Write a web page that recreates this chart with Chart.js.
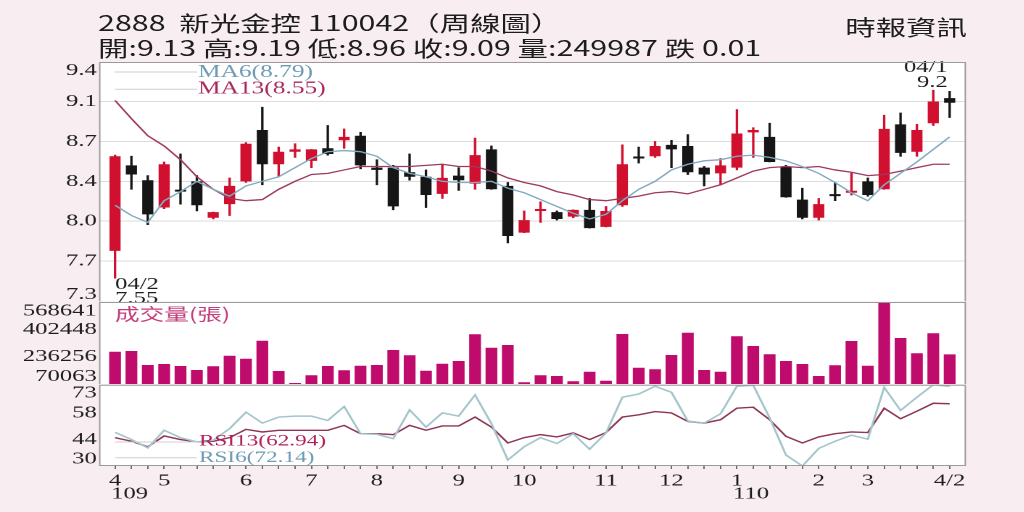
<!DOCTYPE html>
<html lang="zh-Hant">
<head>
<meta charset="utf-8">
<title>2888 新光金控 周線圖</title>
<script src="https://cdn.jsdelivr.net/npm/chart.js@4.4.1/dist/chart.umd.min.js"></script>
<style>
  html, body { margin: 0; padding: 0; width: 1024px; height: 512px; overflow: hidden; background: #f8edf0; }
  #wrap { position: absolute; left: 0; top: 0; height: 512px; transform-origin: 0 0; }
  .hd { position: absolute; font-family: "Noto Sans CJK TC", sans-serif; font-size: 21px; line-height: 24px; color: #1d1d1d; white-space: pre; }
  .box { position: absolute; left: 0; }
</style>
</head>
<body>
<div id="wrap">
  <div class="hd" id="title" style="left:67.6px; top:10px;"></div>
  <div class="hd" id="quote" style="left:67.6px; top:34.5px;"></div>
  <div class="hd" id="src" style="right:39.3px; top:13.5px;"></div>
  <div class="box" id="pBox" style="top:50px; height:252px;"><canvas id="priceChart"></canvas></div>
  <div class="box" id="vBox" style="top:302px; height:82px;"><canvas id="volChart"></canvas></div>
  <div class="box" id="rBox" style="top:384px; height:128px;"><canvas id="rsiChart"></canvas></div>
</div>
<script>
// Weekly chart, 2020/04 .. 2021/04 (52 weeks)
const titleText = '2888  新光金控 110042（周線圖）';
const sourceText = '時報資訊';
const volTitle = '成交量(張)';

const openP  = [7.79, 8.54, 8.41, 8.17, 8.32, 8.40, 8.08, 8.20, 8.40, 8.85, 8.55, 8.66, 8.58, 8.69, 8.76, 8.80, 8.52, 8.52, 8.48, 8.44, 8.29, 8.45, 8.38, 8.68, 8.36, 7.95,
                8.14, 8.13, 8.09, 8.15, 8.00, 8.19, 8.61, 8.62, 8.72, 8.71, 8.52, 8.47, 8.52, 8.83, 8.79, 8.53, 8.24, 8.08, 8.28, 8.30, 8.40, 8.33, 8.90, 8.66, 8.91, 9.13];
const highP  = [8.63, 8.62, 8.45, 8.57, 8.64, 8.45, 8.13, 8.43, 8.74, 9.05, 8.70, 8.73, 8.68, 8.89, 8.86, 8.83, 8.59, 8.54, 8.64, 8.50, 8.55, 8.52, 8.78, 8.71, 8.39, 8.14,
                8.22, 8.14, 8.15, 8.25, 8.18, 8.72, 8.70, 8.75, 8.76, 8.81, 8.53, 8.60, 9.03, 8.87, 8.91, 8.54, 8.34, 8.25, 8.39, 8.47, 8.43, 8.98, 9.00, 8.90, 9.20, 9.19];
const lowP   = [7.55, 8.33, 8.02, 8.16, 8.20, 8.14, 8.07, 8.10, 8.39, 8.37, 8.44, 8.61, 8.52, 8.63, 8.69, 8.51, 8.37, 8.15, 8.41, 8.17, 8.25, 8.32, 8.33, 8.33, 7.86, 7.95,
                8.04, 8.06, 8.08, 7.99, 8.00, 8.18, 8.56, 8.61, 8.52, 8.46, 8.36, 8.37, 8.50, 8.61, 8.57, 8.26, 8.07, 8.06, 8.23, 8.28, 8.27, 8.33, 8.62, 8.62, 8.89, 8.96];
const closeP = [8.62, 8.46, 8.11, 8.55, 8.31, 8.19, 8.13, 8.36, 8.73, 8.55, 8.66, 8.68, 8.68, 8.64, 8.79, 8.54, 8.50, 8.18, 8.44, 8.28, 8.43, 8.41, 8.63, 8.33, 7.92, 8.06,
                8.15, 8.07, 8.15, 7.99, 8.14, 8.55, 8.60, 8.71, 8.68, 8.48, 8.46, 8.54, 8.82, 8.85, 8.57, 8.26, 8.08, 8.20, 8.27, 8.31, 8.28, 8.86, 8.65, 8.85, 9.10, 9.09];
const volume = [266500, 270700, 185600, 191700, 179500, 155200, 177700, 242100, 223900, 333300, 149100, 76000, 123000, 179500, 153400, 181300, 185600, 276800,
                244600, 151000, 193500, 209900, 372200, 290800, 307200, 80400, 123000, 118700, 86500, 144800, 90100, 374100, 169200, 159400, 246400, 382000,
                155200, 144800, 360100, 301100, 250600, 209900, 191700, 118700, 183800, 331500, 181300, 568641, 349700, 256700, 378300, 249987];
const ma6    = [8.19, 8.10, 8.04, 8.23, 8.31, 8.40, 8.33, 8.27, 8.36, 8.40, 8.44, 8.52, 8.60, 8.66, 8.67, 8.66, 8.62, 8.52, 8.47, 8.44, 8.40, 8.39, 8.39, 8.40, 8.34, 8.30,
                8.24, 8.18, 8.12, 8.07, 8.11, 8.23, 8.33, 8.40, 8.50, 8.55, 8.58, 8.59, 8.62, 8.63, 8.61, 8.58, 8.53, 8.47, 8.39, 8.30, 8.23, 8.37, 8.47, 8.57, 8.68, 8.79];
const ma13   = [9.11, 8.95, 8.80, 8.71, 8.59, 8.44, 8.33, 8.25, 8.23, 8.24, 8.33, 8.40, 8.46, 8.47, 8.50, 8.53, 8.53, 8.53, 8.53, 8.54, 8.55, 8.53, 8.53, 8.49, 8.43, 8.39,
                8.36, 8.31, 8.28, 8.24, 8.23, 8.25, 8.27, 8.30, 8.31, 8.29, 8.33, 8.37, 8.43, 8.49, 8.52, 8.53, 8.52, 8.53, 8.50, 8.48, 8.45, 8.46, 8.49, 8.52, 8.55, 8.55];
const rsi6   = [47.8, 44.0, 39.6, 48.9, 45.0, 42.8, 43.6, 49.8, 58.5, 52.7, 55.9, 56.4, 56.4, 54.1, 61.5, 47.1, 46.8, 44.5, 59.7, 50.6, 58.1, 56.4, 67.6, 52.4, 33.2, 40.2,
                45.0, 41.9, 47.1, 38.9, 47.5, 66.4, 68.1, 72.2, 69.0, 53.8, 52.7, 57.6, 72.2, 72.7, 55.5, 35.8, 30.0, 39.3, 43.1, 46.3, 44.2, 71.6, 59.4, 66.4, 73.0, 72.14];
const rsi13  = [45.0, 43.1, 40.2, 45.9, 44.0, 42.8, 43.1, 45.0, 49.4, 48.0, 48.9, 48.9, 48.9, 48.9, 51.5, 47.1, 47.1, 46.6, 51.5, 48.9, 51.2, 51.2, 55.9, 50.6, 42.2, 45.0,
                46.6, 45.4, 47.5, 44.0, 47.7, 55.9, 57.1, 58.8, 58.1, 53.6, 52.7, 54.5, 60.6, 61.1, 54.5, 45.7, 42.2, 45.4, 47.1, 48.0, 47.7, 60.6, 55.0, 59.0, 63.2, 62.94];

const monthTickIdx    = [0, 3, 8, 12, 16, 21, 25, 30, 34, 38, 43, 46, 51];
const monthTickLabels = ['4', '5', '6', '7', '8', '9', '10', '11', '12', '1', '2', '3', '4/2'];
const yearTickIdx     = [0, 38];
const yearTickLabels  = ['109', '110'];

const priceTickValues = [7.347, 7.7, 8.05, 8.4, 8.75, 9.1, 9.447];
const priceTickLabels = ['7.3', '7.7', '8.0', '8.4', '8.7', '9.1', '9.4'];
const volTickValues   = [70063, 236256, 402448, 568641];
const volTickLabels   = ['70063', '236256', '402448', '568641'];
const rsiTickValues   = [30, 44, 58, 73];
const rsiTickLabels   = ['30', '44', '58', '73'];

const lowNote  = ['04/2', '7.55'];
const highNote = ['04/1', '9.2'];

// the source picture is stretched horizontally; draw narrow and stretch the same way
const S = 1.45;
const AXIS_W = 99 / S;
const FRAME_R = 966 / S;
const BOX_W = Math.ceil(FRAME_R) + 1;
const SERIF = "'Liberation Serif', 'DejaVu Serif', serif";
const CJK = "'Noto Sans CJK TC', sans-serif";

const wrap = document.getElementById('wrap');
wrap.style.width = (1024 / S) + 'px';
wrap.style.transform = 'scaleX(' + S + ')';
['pBox', 'vBox', 'rBox'].forEach(id => { document.getElementById(id).style.width = BOX_W + 'px'; });

const last = closeP.length - 1;
const chg = closeP[last] - closeP[last - 1];
document.getElementById('title').textContent = titleText;
document.getElementById('src').textContent = sourceText;
document.getElementById('quote').textContent =
  '開:' + openP[last].toFixed(2) + ' 高:' + highP[last].toFixed(2) + ' 低:' + lowP[last].toFixed(2) +
  ' 收:' + closeP[last].toFixed(2) + ' 量:' + volume[last] + (chg < 0 ? ' 跌 ' : ' 漲 ') + Math.abs(chg).toFixed(2);

Chart.defaults.font.family = SERIF;
Chart.defaults.color = '#1d1d1d';

const weeks = closeP.map((_, i) => i);
const UP = '#d0102e', DOWN = '#161616';
const candleColor = weeks.map(i => closeP[i] >= openP[i] ? UP : DOWN);

function xAxis(show) {
  return {
    type: 'linear', min: -0.98, max: 52, display: show, offset: false,
    afterBuildTicks: s => { s.ticks = weeks.map(v => ({ value: v })); },
    afterFit: s => { if (show) s.height = 46; s.paddingLeft = 0; s.paddingRight = 0; },
    grid: { offset: false, drawOnChartArea: false, drawTicks: true, tickLength: 3, color: '#6d6d6d' },
    border: { display: false },
    ticks: {
      autoSkip: false, maxRotation: 0, minRotation: 0, padding: 2, font: { size: 17 }, color: '#1d1d1d',
      callback: v => { const k = monthTickIdx.indexOf(v); return k < 0 ? '' : monthTickLabels[k]; }
    }
  };
}

// outer labels sit just inside the panel edge, like the source
function yAxis(values, labels, insetBottom, insetTop, panelH, gridOn) {
  const min = values[0], max = values[values.length - 1];
  const d0 = (max - min) * insetBottom / panelH, d1 = (max - min) * insetTop / panelH;
  const pos = values.map((v, i) => i === 0 ? v + d0 : (i === values.length - 1 ? v - d1 : v));
  return {
    position: 'left', min, max, beginAtZero: false,
    afterBuildTicks: s => { s.ticks = pos.map(v => ({ value: v })); },
    afterFit: s => { s.width = AXIS_W; s.paddingTop = 0; s.paddingBottom = 0; },
    grid: {
      drawTicks: false, drawOnChartArea: gridOn,
      color: c => (c.index === 0 || c.index === pos.length - 1) ? 'rgba(0,0,0,0)' : '#dcdcdc'
    },
    border: { display: false },
    ticks: { autoSkip: false, padding: 1.5, font: { size: 17 }, color: '#1d1d1d', callback: (v, i) => labels[i] }
  };
}

function framePlugin(withBottom) {
  return {
    id: 'frame',
    beforeDraw(chart) {
      const { ctx, chartArea: a } = chart;
      ctx.save();
      ctx.fillStyle = '#ffffff';
      ctx.fillRect(a.left, a.top, a.width, a.height);
      ctx.restore();
    },
    afterDraw(chart) {
      const { ctx, chartArea: a } = chart;
      ctx.save();
      ctx.lineWidth = 1;
      ctx.strokeStyle = '#9a9a9a';
      ctx.beginPath();
      ctx.moveTo(a.left + 0.5, a.top); ctx.lineTo(a.left + 0.5, a.bottom);
      ctx.moveTo(a.right - 0.5, a.top); ctx.lineTo(a.right - 0.5, a.bottom);
      ctx.moveTo(a.left, a.top + 0.5); ctx.lineTo(a.right, a.top + 0.5);
      if (withBottom) { ctx.moveTo(a.left, a.bottom - 0.5); ctx.lineTo(a.right, a.bottom - 0.5); }
      ctx.stroke();
      ctx.restore();
    }
  };
}

const legendPlugin = {
  id: 'legendText',
  afterDraw(chart, args, opts) {
    const { ctx } = chart;
    ctx.save();
    (opts.items || []).forEach(it => {
      if (it.lineY !== undefined) {
        ctx.strokeStyle = '#cfcfcf';
        ctx.lineWidth = 1;
        ctx.beginPath();
        ctx.moveTo(115 / S, it.lineY + 0.5);
        ctx.lineTo(197 / S, it.lineY + 0.5);
        ctx.stroke();
      }
      ctx.font = it.font;
      ctx.fillStyle = it.color;
      ctx.textAlign = 'left';
      ctx.textBaseline = 'middle';
      ctx.fillText(it.text, it.x, it.y);
    });
    ctx.restore();
  }
};

const notesPlugin = {
  id: 'notes',
  afterDatasetsDraw(chart) {
    const { ctx, scales: { x, y } } = chart;
    const lo = lowP.indexOf(Math.min(...lowP));
    const hi = highP.indexOf(Math.max(...highP));
    ctx.save();
    ctx.font = '17px ' + SERIF;
    ctx.fillStyle = '#1d1d1d';
    ctx.textBaseline = 'alphabetic';
    ctx.textAlign = 'left';
    const lx = x.getPixelForValue(lo), ly = y.getPixelForValue(lowP[lo]);
    ctx.fillText(lowNote[0], lx, ly + 11);
    ctx.fillText(lowNote[1], lx, ly + 25);
    ctx.textAlign = 'right';
    const hx = x.getPixelForValue(hi) + 10, hy = y.getPixelForValue(highP[hi]);
    ctx.fillText(highNote[1], hx, hy - 3);
    ctx.fillText(highNote[0], hx, hy - 18);
    ctx.restore();
  }
};

const yearPlugin = {
  id: 'years',
  afterDraw(chart) {
    const { ctx, chartArea: a, scales: { x } } = chart;
    ctx.save();
    ctx.font = '17px ' + SERIF;
    ctx.fillStyle = '#1d1d1d';
    ctx.textAlign = 'left';
    ctx.textBaseline = 'middle';
    yearTickIdx.forEach((v, k) => ctx.fillText(yearTickLabels[k], x.getPixelForValue(v) - 4 / S, a.bottom + 28));
    ctx.restore();
  }
};

const baseOptions = (padTop) => ({
  responsive: true, maintainAspectRatio: false, animation: false, devicePixelRatio: 2, events: [],
  layout: { padding: { top: padTop, right: BOX_W - FRAME_R, left: 0, bottom: 0 } },
});

const pts = arr => weeks.map(i => ({ x: i, y: arr[i] }));

// price panel: candles + MA lines
new Chart(document.getElementById('priceChart'), {
  type: 'bar',
  data: {
    datasets: [
      { type: 'line', data: pts(ma6), borderColor: '#82abbf', borderWidth: 1.3, pointRadius: 0, order: 0 },
      { type: 'line', data: pts(ma13), borderColor: '#9e3a60', borderWidth: 1.3, pointRadius: 0, order: 0 },
      { data: weeks.map(i => ({ x: i, y: [openP[i], closeP[i]] })), backgroundColor: candleColor,
        barPercentage: 0.68, categoryPercentage: 1, minBarLength: 2, grouped: false, order: 1 },
      { data: weeks.map(i => ({ x: i, y: [lowP[i], highP[i]] })), backgroundColor: candleColor,
        barThickness: 1, grouped: false, order: 2 }
    ]
  },
  options: Object.assign(baseOptions(12), {
    scales: { x: xAxis(false), y: yAxis(priceTickValues, priceTickLabels, 7, 8.8, 240, true) },
    plugins: {
      legend: { display: false }, tooltip: { enabled: false },
      legendText: { items: [
        { text: 'MA6(' + ma6[last].toFixed(2) + ')', color: '#6d9bb4', x: 198 / S, y: 22.5, lineY: 21.5, font: '17.5px ' + SERIF },
        { text: 'MA13(' + ma13[last].toFixed(2) + ')', color: '#a9295d', x: 198 / S, y: 38.8, lineY: 38.8, font: '17.5px ' + SERIF }
      ] }
    }
  }),
  plugins: [framePlugin(false), legendPlugin, notesPlugin]
});

// volume panel
new Chart(document.getElementById('volChart'), {
  type: 'bar',
  data: {
    datasets: [
      { data: pts(volume), backgroundColor: '#bf0b6c', barPercentage: 0.72, categoryPercentage: 1, grouped: false }
    ]
  },
  options: Object.assign(baseOptions(0), {
    scales: { x: xAxis(false), y: yAxis(volTickValues, volTickLabels, 7.5, 8.8, 82, false) },
    plugins: {
      legend: { display: false }, tooltip: { enabled: false },
      legendText: { items: [
        { text: volTitle, color: '#c43d7c', x: 115 / S, y: 11.8, font: '17px ' + CJK }
      ] }
    }
  }),
  plugins: [framePlugin(false), legendPlugin]
});

// RSI panel
new Chart(document.getElementById('rsiChart'), {
  type: 'line',
  data: {
    datasets: [
      { data: pts(rsi6), borderColor: '#a4c5cc', borderWidth: 1.5, pointRadius: 0 },
      { data: pts(rsi13), borderColor: '#8e3556', borderWidth: 1.4, pointRadius: 0 }
    ]
  },
  options: Object.assign(baseOptions(0), {
    scales: { x: xAxis(true), y: yAxis(rsiTickValues, rsiTickLabels, 7, 8.5, 82, false) },
    plugins: {
      legend: { display: false }, tooltip: { enabled: false },
      legendText: { items: [
        { text: 'RSI13(' + rsi13[last].toFixed(2) + ')', color: '#b0205a', x: 199 / S, y: 57.5, lineY: 57.5, font: '16px ' + SERIF },
        { text: 'RSI6(' + rsi6[last].toFixed(2) + ')', color: '#6d9bb4', x: 199 / S, y: 74, lineY: 73.3, font: '16px ' + SERIF }
      ] }
    }
  }),
  plugins: [framePlugin(true), legendPlugin, yearPlugin]
});
</script>
</body>
</html>
